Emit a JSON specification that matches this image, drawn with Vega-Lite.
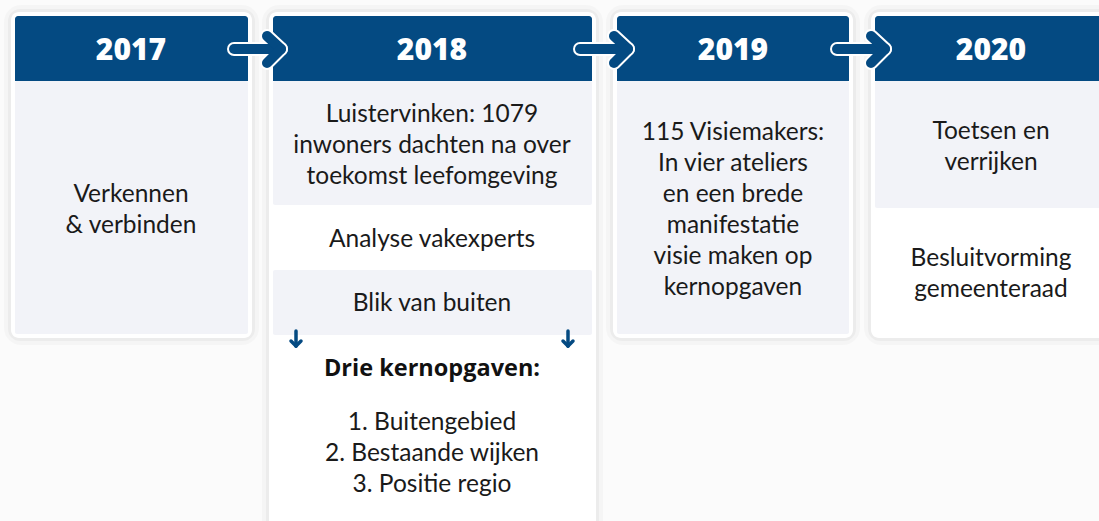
{
  "$schema": "https://vega.github.io/schema/vega-lite/v6.json",
  "width": 1099,
  "height": 521,
  "padding": 0,
  "autosize": "none",
  "background": "#fbfbfb",
  "config": {"view": {"stroke": null}},
  "datasets": {
    "cards": [
      {"x": 11, "x2": 252, "y": 12, "y2": 338},
      {"x": 269, "x2": 596, "y": 12, "y2": 540},
      {"x": 613, "x2": 853, "y": 12, "y2": 338},
      {"x": 871, "x2": 1110, "y": 12, "y2": 338}
    ],
    "headers": [
      {"x": 15, "x2": 248, "y": 16, "y2": 81},
      {"x": 273, "x2": 592, "y": 16, "y2": 81},
      {"x": 617, "x2": 849, "y": 16, "y2": 81},
      {"x": 875, "x2": 1104, "y": 16, "y2": 81}
    ],
    "sections": [
      {"x": 15, "x2": 248, "y": 81, "y2": 334, "fill": "#f2f3f8"},
      {"x": 273, "x2": 592, "y": 81, "y2": 205, "fill": "#f2f3f8"},
      {"x": 273, "x2": 592, "y": 205, "y2": 270, "fill": "#ffffff"},
      {"x": 273, "x2": 592, "y": 270, "y2": 335, "fill": "#f2f3f8"},
      {"x": 273, "x2": 592, "y": 335, "y2": 530, "fill": "#ffffff"},
      {"x": 617, "x2": 849, "y": 81, "y2": 334, "fill": "#f2f3f8"},
      {"x": 875, "x2": 1104, "y": 81, "y2": 208, "fill": "#f2f3f8"},
      {"x": 875, "x2": 1104, "y": 208, "y2": 334, "fill": "#ffffff"}
    ],
    "arrows": [
      {"x": 234, "y": 49, "x2": 280, "y2": 49},
      {"x": 267, "y": 36, "x2": 281, "y2": 49},
      {"x": 281, "y": 49, "x2": 267, "y2": 63},
      {"x": 580, "y": 49, "x2": 627, "y2": 49},
      {"x": 614, "y": 36, "x2": 628, "y2": 49},
      {"x": 628, "y": 49, "x2": 614, "y2": 63},
      {"x": 837, "y": 49, "x2": 884, "y2": 49},
      {"x": 871, "y": 36, "x2": 885, "y2": 49},
      {"x": 885, "y": 49, "x2": 871, "y2": 63}
    ],
    "downArrows": [
      {"x": 296, "y": 331, "x2": 296, "y2": 346},
      {"x": 291, "y": 341, "x2": 296, "y2": 346},
      {"x": 301, "y": 341, "x2": 296, "y2": 346},
      {"x": 568, "y": 331, "x2": 568, "y2": 346},
      {"x": 563, "y": 341, "x2": 568, "y2": 346},
      {"x": 573, "y": 341, "x2": 568, "y2": 346}
    ],
    "years": [
      {"x": 131, "y": 51, "label": "2017"},
      {"x": 432, "y": 51, "label": "2018"},
      {"x": 733, "y": 51, "label": "2019"},
      {"x": 991, "y": 51, "label": "2020"}
    ],
    "lines": [
      {"x": 131, "y": 194.5, "label": "Verkennen", "bold": false},
      {"x": 131, "y": 225.5, "label": "& verbinden", "bold": false},
      {"x": 432, "y": 114.5, "label": "Luistervinken: 1079", "bold": false},
      {"x": 432, "y": 145.5, "label": "inwoners dachten na over", "bold": false},
      {"x": 432, "y": 176.5, "label": "toekomst leefomgeving", "bold": false},
      {"x": 432, "y": 239.5, "label": "Analyse vakexperts", "bold": false},
      {"x": 432, "y": 303.5, "label": "Blik van buiten", "bold": false},
      {"x": 432, "y": 369, "label": "Drie kernopgaven:", "bold": true},
      {"x": 432, "y": 422.5, "label": "1. Buitengebied", "bold": false},
      {"x": 432, "y": 453.5, "label": "2. Bestaande wijken", "bold": false},
      {"x": 432, "y": 484.5, "label": "3. Positie regio", "bold": false},
      {"x": 733, "y": 132.5, "label": "115 Visiemakers:", "bold": false},
      {"x": 733, "y": 163.5, "label": "In vier ateliers", "bold": false},
      {"x": 733, "y": 194.5, "label": "en een brede", "bold": false},
      {"x": 733, "y": 225.5, "label": "manifestatie", "bold": false},
      {"x": 733, "y": 256.5, "label": "visie maken op", "bold": false},
      {"x": 733, "y": 287.5, "label": "kernopgaven", "bold": false},
      {"x": 991, "y": 131.5, "label": "Toetsen en", "bold": false},
      {"x": 991, "y": 162.5, "label": "verrijken", "bold": false},
      {"x": 991, "y": 258.5, "label": "Besluitvorming", "bold": false},
      {"x": 991, "y": 289.5, "label": "gemeenteraad", "bold": false}
    ]
  },
  "encoding": {
    "x": {"field": "x", "type": "quantitative", "scale": {"domain": [0, 1099], "nice": false, "zero": false}, "axis": null},
    "y": {"field": "y", "type": "quantitative", "scale": {"domain": [0, 521], "nice": false, "zero": false, "reverse": true}, "axis": null}
  },
  "layer": [
    {
      "data": {"name": "cards"},
      "mark": {"type": "rect", "fill": "#000000", "fillOpacity": 0, "stroke": "#000000", "strokeOpacity": 0.025, "strokeWidth": 14, "cornerRadius": 10},
      "encoding": {"x2": {"field": "x2"}, "y2": {"field": "y2"}}
    },
    {
      "data": {"name": "cards"},
      "mark": {"type": "rect", "fill": "#000000", "fillOpacity": 0, "stroke": "#000000", "strokeOpacity": 0.035, "strokeWidth": 6, "cornerRadius": 9},
      "encoding": {"x2": {"field": "x2"}, "y2": {"field": "y2"}}
    },
    {
      "data": {"name": "cards"},
      "mark": {"type": "rect", "fill": "#ffffff", "cornerRadius": 8},
      "encoding": {"x2": {"field": "x2"}, "y2": {"field": "y2"}}
    },
    {
      "data": {"name": "sections"},
      "mark": {"type": "rect", "cornerRadius": 2},
      "encoding": {"x2": {"field": "x2"}, "y2": {"field": "y2"}, "fill": {"field": "fill", "type": "nominal", "scale": null}}
    },
    {
      "data": {"name": "headers"},
      "mark": {"type": "rect", "fill": "#044a82", "cornerRadiusTopLeft": 3, "cornerRadiusTopRight": 3},
      "encoding": {"x2": {"field": "x2"}, "y2": {"field": "y2"}}
    },
    {
      "data": {"name": "arrows"},
      "mark": {"type": "rule", "stroke": "#ffffff", "strokeWidth": 14, "strokeCap": "round"},
      "encoding": {"x2": {"field": "x2"}, "y2": {"field": "y2"}}
    },
    {
      "data": {"name": "arrows"},
      "mark": {"type": "rule", "stroke": "#044a82", "strokeWidth": 10, "strokeCap": "round"},
      "encoding": {"x2": {"field": "x2"}, "y2": {"field": "y2"}}
    },
    {
      "data": {"name": "downArrows"},
      "mark": {"type": "rule", "stroke": "#044a82", "strokeWidth": 3.5, "strokeCap": "round"},
      "encoding": {"x2": {"field": "x2"}, "y2": {"field": "y2"}}
    },
    {
      "data": {"name": "years"},
      "mark": {"type": "text", "font": "Open Sans", "fontWeight": 800, "fontSize": 30, "color": "#ffffff", "align": "center", "baseline": "middle"},
      "encoding": {"text": {"field": "label"}}
    },
    {
      "data": {"name": "lines"},
      "transform": [{"filter": "!datum.bold"}],
      "mark": {"type": "text", "font": "Lato", "fontSize": 24.5, "color": "#1a1a1a", "align": "center", "baseline": "middle"},
      "encoding": {"text": {"field": "label"}}
    },
    {
      "data": {"name": "lines"},
      "transform": [{"filter": "datum.bold"}],
      "mark": {"type": "text", "font": "Open Sans", "fontWeight": "bold", "fontSize": 23.5, "color": "#111111", "align": "center", "baseline": "middle"},
      "encoding": {"text": {"field": "label"}}
    }
  ]
}
